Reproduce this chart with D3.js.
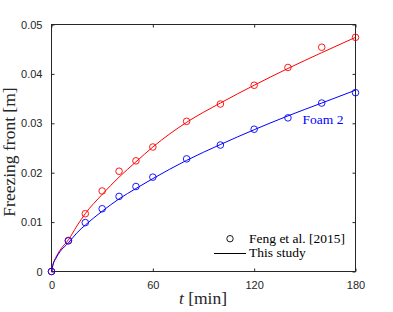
<!DOCTYPE html>
<html lang="en">
<head>
  <meta charset="utf-8">
  <title>Freezing front</title>
  <script src="https://cdn.jsdelivr.net/npm/d3@7"></script>
  <style>
    body { margin: 0; background: #fff; }
    .tick text { font-family: "Liberation Sans", Arial, sans-serif; font-size: 11px; fill: #262626; }
    .tick line { stroke: #262626; }
    .domain { display: none; }
    .serif { font-family: "Liberation Serif", "Times New Roman", serif; }
  </style>
</head>
<body>
<svg width="393" height="312"></svg>
<script>
// ---- data ----
var xTicks = [0, 60, 120, 180];
var yTicks = [0, 0.01, 0.02, 0.03, 0.04, 0.05];
var yTickLabels = ["0", "0.01", "0.02", "0.03", "0.04", "0.05"];

// measured points, Feng et al. [2015]
var expT = [0, 10, 20, 30, 40, 50, 60, 80, 100, 120, 140, 160, 180];
var expFoam1 = [0, 0.0063, 0.0117, 0.0163, 0.0203, 0.0224, 0.0252, 0.0304, 0.0339, 0.0377, 0.0413, 0.0454, 0.0474];
var expFoam2 = [0, 0.0062, 0.0099, 0.0127, 0.0152, 0.0172, 0.0191, 0.0228, 0.0256, 0.0288, 0.0311, 0.0341, 0.0362];

// model curves, this study
var modelT = [0, 1, 2.5, 5, 10, 15, 20, 30, 40, 50, 60, 80, 100, 120, 140, 160, 180];
var modelFoam1 = [0, 0.0016, 0.0028, 0.0043, 0.0064, 0.0092, 0.0117, 0.0156, 0.0191, 0.0222, 0.0252, 0.0302, 0.0341, 0.0377, 0.0411, 0.0443, 0.0474];
var modelFoam2 = [0, 0.0015, 0.0026, 0.0040, 0.0058, 0.0078, 0.0094, 0.0122, 0.0147, 0.0168, 0.0188, 0.0225, 0.0257, 0.0287, 0.0315, 0.0341, 0.0367];

var svg = d3.select("svg");

var x = d3.scaleLinear().domain([0, 180]).range([51.5, 355.5]);
var y = d3.scaleLinear().domain([0, 0.05]).range([271.5, 24.5]);

var axisColor = "#262626";

// axes with inward ticks
svg.append("g").attr("transform", "translate(0,271.5)")
  .call(d3.axisBottom(x).tickValues(xTicks).tickSizeInner(-3).tickSizeOuter(0).tickPadding(10));
svg.append("g").attr("transform", "translate(0,24.5)")
  .call(d3.axisTop(x).tickValues(xTicks).tickSizeInner(-3).tickSizeOuter(0).tickFormat(""));
svg.append("g").attr("transform", "translate(51.5,0)")
  .call(d3.axisLeft(y).tickValues(yTicks).tickSizeInner(-3).tickSizeOuter(0).tickPadding(9)
    .tickFormat(function(d, i) { return yTickLabels[i]; }));
svg.append("g").attr("transform", "translate(355.5,0)")
  .call(d3.axisRight(y).tickValues(yTicks).tickSizeInner(-3).tickSizeOuter(0).tickFormat(""));

// box
svg.append("rect")
  .attr("x", x(0)).attr("y", y(0.05))
  .attr("width", x(180) - x(0)).attr("height", y(0) - y(0.05))
  .attr("fill", "none").attr("stroke", axisColor).attr("stroke-width", 1);

// model lines
var line = d3.line()
  .x(function(d) { return x(d[0]); })
  .y(function(d) { return y(d[1]); })
  .curve(d3.curveMonotoneX);

var series = [
  { color: "#ff0000", model: modelFoam1, exp: expFoam1 },
  { color: "#0000ff", model: modelFoam2, exp: expFoam2 }
];

series.forEach(function(s) {
  svg.append("path")
    .datum(modelT.map(function(t, i) { return [t, s.model[i]]; }))
    .attr("d", line)
    .attr("fill", "none")
    .attr("stroke", s.color)
    .attr("stroke-width", 1);

  svg.append("g").selectAll("circle")
    .data(expT.map(function(t, i) { return [t, s.exp[i]]; }))
    .enter().append("circle")
      .attr("cx", function(d) { return x(d[0]); })
      .attr("cy", function(d) { return y(d[1]); })
      .attr("r", 3.3)
      .attr("fill", "none")
      .attr("stroke", s.color)
      .attr("stroke-width", 0.9);
});

// series label
svg.append("text").attr("class", "serif")
  .attr("x", 302.5).attr("y", 123.5)
  .attr("font-size", 13.5).attr("fill", "#0000ff")
  .text("Foam 2");

// legend
svg.append("circle")
  .attr("cx", 230).attr("cy", 238.7).attr("r", 3.2)
  .attr("fill", "none").attr("stroke", "#000").attr("stroke-width", 0.9);
svg.append("text").attr("class", "serif")
  .attr("x", 249).attr("y", 242.5).attr("font-size", 13.5).attr("fill", "#000")
  .text("Feng et al. [2015]");
svg.append("line")
  .attr("x1", 214).attr("x2", 246).attr("y1", 253.5).attr("y2", 253.5)
  .attr("stroke", "#000").attr("stroke-width", 1);
svg.append("text").attr("class", "serif")
  .attr("x", 249).attr("y", 257).attr("font-size", 13.5).attr("fill", "#000")
  .text("This study");

// axis labels
var xl = svg.append("text").attr("class", "serif")
  .attr("x", 203).attr("y", 304).attr("text-anchor", "middle")
  .attr("font-size", 17.5).attr("fill", axisColor);
xl.append("tspan").attr("font-style", "italic").text("t");
xl.append("tspan").text(" [min]");

svg.append("text").attr("class", "serif")
  .attr("transform", "translate(15,152) rotate(-90)")
  .attr("text-anchor", "middle")
  .attr("font-size", 17.5).attr("fill", axisColor)
  .text("Freezing front [m]");
</script>
</body>
</html>
